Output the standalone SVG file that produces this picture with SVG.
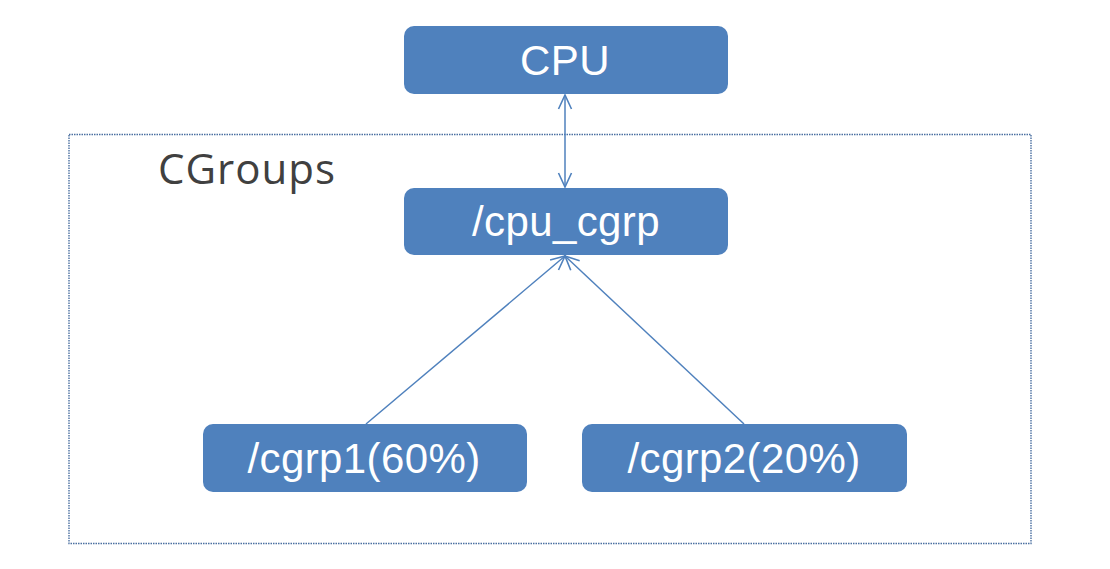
<svg xmlns="http://www.w3.org/2000/svg" width="1110" height="569" viewBox="0 0 1110 569">
<defs>
<style>
.box{fill:#4F81BD;stroke:none}
.lbl{fill:#fff;font-family:"Liberation Sans",Arial,sans-serif;font-size:42px;text-anchor:middle;letter-spacing:0.4px}
.con{stroke:#4F81BD;stroke-width:1.5;fill:none}
</style>
<marker id="ah" viewBox="0 0 16 16" refX="15" refY="8" markerWidth="16" markerHeight="16" markerUnits="userSpaceOnUse" orient="auto-start-reverse">
<path d="M1,1.5 L15,8 L1,14.5" fill="none" stroke="#4F81BD" stroke-width="1.6"/>
</marker>
</defs>
<rect width="1110" height="569" fill="#fff"/>
<g id="cgroups">
<rect x="69" y="134.5" width="962" height="409" fill="none" stroke="#4A6FA0" stroke-width="1.4" stroke-dasharray="1.5 1"/>
<text x="158" y="184" font-family="'Open Sans','Noto Sans',sans-serif" font-size="42" letter-spacing="1" fill="#404040">CGroups</text>
</g>
<g id="connectors">
<line class="con" x1="565" y1="95" x2="565" y2="187" marker-start="url(#ah)" marker-end="url(#ah)"/>
<line class="con" x1="366" y1="424" x2="565" y2="256" marker-end="url(#ah)"/>
<line class="con" x1="744" y1="424" x2="565" y2="256" marker-end="url(#ah)"/>
</g>
<g id="cpu">
<rect class="box" x="404" y="26" width="324" height="68" rx="10"/>
<text class="lbl" x="565" y="75">CPU</text>
</g>
<g id="cpu_cgrp">
<rect class="box" x="404" y="188" width="324" height="67" rx="10"/>
<text class="lbl" x="566" y="236">/cpu_cgrp</text>
</g>
<g id="cgrp1">
<rect class="box" x="203" y="424" width="324" height="68" rx="10"/>
<text class="lbl" x="364" y="473">/cgrp1(60%)</text>
</g>
<g id="cgrp2">
<rect class="box" x="582" y="424" width="325" height="68" rx="10"/>
<text class="lbl" x="744" y="473">/cgrp2(20%)</text>
</g>
</svg>
